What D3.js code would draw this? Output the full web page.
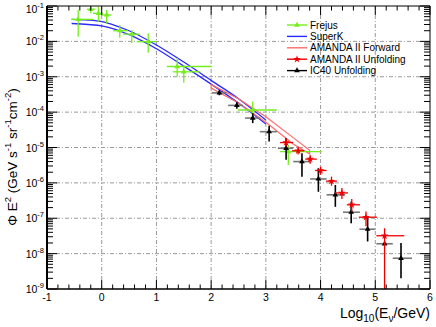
<!DOCTYPE html>
<html><head><meta charset="utf-8">
<script src="https://cdn.jsdelivr.net/npm/d3@7"></script>
<style>body{margin:0;background:#fff}svg{display:block;font-family:"Liberation Sans",Arial,sans-serif}</style>
</head><body><svg id="c" width="436" height="327"></svg>
<script>
// ---- data ----
const xTickValues = [-1,0,1,2,3,4,5,6];
const yTickExps = [-9,-8,-7,-6,-5,-4,-3,-2,-1];

// Frejus
const frejusX   = [-0.43,-0.20,-0.06,0.09,0.33,0.55,0.85,1.38,1.50,2.76,3.41];
const frejusXlo = [-0.55,-0.27,-0.16,0.00,0.21,0.39,0.64,1.19,1.30,2.49,3.26];
const frejusXhi = [-0.15,-0.12,0.02,0.18,0.48,0.70,1.00,2.01,1.80,3.20,4.02];
const frejusY   = [4.2e-2,8.1e-2,6.2e-2,5.6e-2,2.0e-2,1.6e-2,9.8e-3,1.95e-3,1.38e-3,1.15e-4,7.6e-6];
const frejusYlo = [1.35e-2,6.2e-2,3.6e-2,3.2e-2,1.26e-2,8.9e-3,4.8e-3,1.0e-3,6.8e-4,6.0e-5,3.2e-6];
const frejusYhi = [7.8e-2,1.1e-1,9.5e-2,7.8e-2,2.9e-2,2.1e-2,1.7e-2,3.4e-3,2.1e-3,2.0e-4,1.17e-5];

// SuperK band
const superkX     = [-0.55,-0.25,0.0,0.25,0.5,1.0,1.5,2.0,2.5,3.0];
const superkUpper = [4.2e-2,4.0e-2,3.6e-2,2.8e-2,2.0e-2,7.9e-3,2.6e-3,7.9e-4,2.4e-4,6.0e-5];
const superkLower = [3.2e-2,3.0e-2,2.75e-2,2.2e-2,1.55e-2,6.2e-3,2.0e-3,6.2e-4,1.8e-4,4.6e-5];

// AMANDA II Forward band
const amfX     = [2.0,2.5,3.0,3.5,3.8];
const amfUpper = [6.0e-4,2.4e-4,7.4e-5,1.9e-5,8.3e-6];
const amfLower = [4.8e-4,1.8e-4,5.2e-5,1.26e-5,6.6e-6];

// AMANDA II Unfolding
const amuX   = [3.37,3.59,3.81,4.00,4.20,4.39,4.57,4.83,5.17];
const amuXlo = [3.26,3.48,3.72,3.90,4.10,4.26,4.48,4.70,5.02];
const amuXhi = [3.50,3.70,3.93,4.11,4.30,4.50,4.72,5.03,5.53];
const amuY   = [1.38e-5,8.1e-6,4.7e-6,2.24e-6,1.12e-6,5.2e-7,2.4e-7,1.07e-7,3.2e-8];
const amuYlo = [1.05e-5,6.3e-6,3.5e-6,1.7e-6,8.3e-7,3.5e-7,1.55e-7,5.9e-8,1e-10];
const amuYhi = [1.86e-5,1.05e-5,6.0e-6,2.9e-6,1.5e-6,7.2e-7,3.5e-7,1.55e-7,5.2e-8];

// IC40 Unfolding
const icX   = [2.15,2.47,2.76,3.06,3.37,3.66,3.96,4.27,4.56,4.86,5.17,5.47];
const icXlo = [2.01,2.31,2.62,2.89,3.22,3.50,3.81,4.11,4.41,4.71,5.02,5.32];
const icXhi = [2.28,2.58,2.89,3.20,3.50,3.81,4.11,4.45,4.72,5.00,5.32,5.67];
const icY   = [3.5e-4,1.55e-4,6.8e-5,2.8e-5,9.5e-6,4.0e-6,1.29e-6,4.6e-7,1.48e-7,4.9e-8,1.9e-8,7.4e-9];
const icYlo = [3.0e-4,1.25e-4,4.9e-5,1.48e-5,4.5e-6,1.5e-6,5.6e-7,2.1e-7,7.2e-8,2.2e-8,1.9e-8,2.0e-9];
const icYhi = [4.0e-4,1.9e-4,9.3e-5,4.1e-5,1.86e-5,6.9e-6,2.6e-6,8.7e-7,2.95e-7,1.02e-7,1.9e-8,2.0e-8];

const legendLabels = ["Frejus","SuperK","AMANDA II Forward","AMANDA II Unfolding","IC40 Unfolding"];

// ---- drawing ----
const L=47,R=430,T=6,B=289;
const svg=d3.select("#c");
const x=d3.scaleLinear().domain([-1,6]).range([L,R]);
const y=d3.scaleLog().domain([1e-9,1e-1]).range([B,T]);
const C={green:"#74ee1c",blue:"#2a2aff",lred:"#ff6a6a",red:"#ee0000",black:"#000",gray:"#777777"};

svg.append("defs").append("clipPath").attr("id","clip").append("rect")
  .attr("x",L).attr("y",T).attr("width",R-L).attr("height",B-T);

// grid
const grid=svg.append("g").attr("stroke","#9a9a9a").attr("stroke-width",1).attr("stroke-dasharray","4,2,1,2");
xTickValues.slice(1,-1).forEach(v=>grid.append("line").attr("x1",x(v)).attr("x2",x(v)).attr("y1",T).attr("y2",B));
yTickExps.slice(1,-1).forEach(e=>grid.append("line").attr("x1",L).attr("x2",R).attr("y1",y(Math.pow(10,e))).attr("y2",y(Math.pow(10,e))));

const plot=svg.append("g").attr("clip-path","url(#clip)");

// SuperK lines
const lineGen=(xs,ys)=>d3.line().x((d,i)=>x(xs[i])).y((d,i)=>y(ys[i])).curve(d3.curveMonotoneX)(xs);
plot.append("path").attr("d",lineGen(superkX,superkUpper)).attr("fill","none").attr("stroke",C.blue).attr("stroke-width",1.3);
plot.append("path").attr("d",lineGen(superkX,superkLower)).attr("fill","none").attr("stroke",C.blue).attr("stroke-width",1.3);

// AMANDA forward polygon outline
{
  const pts=amfX.map((v,i)=>[x(v),y(amfUpper[i])]).concat(amfX.map((v,i)=>[x(v),y(amfLower[i])]).reverse());
  plot.append("path").attr("d",d3.line()(pts)+"Z").attr("fill","none").attr("stroke",C.lred).attr("stroke-width",1.2);
}

function errPoints(g,xs,xl,xh,ys,yl,yh,hcol,vcol,w){
  xs.forEach((v,i)=>{
    g.append("line").attr("x1",x(xl[i])).attr("x2",x(xh[i])).attr("y1",y(ys[i])).attr("y2",y(ys[i])).attr("stroke",hcol).attr("stroke-width",w);
    g.append("line").attr("x1",x(v)).attr("x2",x(v)).attr("y1",y(yl[i])).attr("y2",y(yh[i])).attr("stroke",vcol).attr("stroke-width",w);
  });
}
const tri=d3.symbol().type(d3.symbolTriangle).size(14);
const star=d3.symbol().type(d3.symbolStar).size(18);

// Frejus
errPoints(plot,frejusX,frejusXlo,frejusXhi,frejusY,frejusYlo,frejusYhi,C.green,C.green,1.3);
frejusX.forEach((v,i)=>plot.append("path").attr("d",tri).attr("transform",`translate(${x(v)},${y(frejusY[i])})`).attr("fill",C.green));

// IC40
errPoints(plot,icX,icXlo,icXhi,icY,icYlo,icYhi,C.gray,C.black,1.6);
icX.forEach((v,i)=>plot.append("path").attr("d",tri).attr("transform",`translate(${x(v)},${y(icY[i])})`).attr("fill",C.black));

// AMANDA unfolding
errPoints(plot,amuX,amuXlo,amuXhi,amuY,amuYlo,amuYhi,C.red,C.red,1.3);
amuX.forEach((v,i)=>plot.append("path").attr("d",star).attr("transform",`translate(${x(v)},${y(amuY[i])})`).attr("fill",C.red));

// frame
svg.append("line").attr("x1",L).attr("x2",L).attr("y1",T).attr("y2",B).attr("stroke","#000").attr("stroke-width",2);
svg.append("line").attr("x1",L).attr("x2",R).attr("y1",B).attr("y2",B).attr("stroke","#000").attr("stroke-width",1.5);
svg.append("line").attr("x1",L).attr("x2",R).attr("y1",T).attr("y2",T).attr("stroke","#000").attr("stroke-width",1);
svg.append("line").attr("x1",R).attr("x2",R).attr("y1",T).attr("y2",B).attr("stroke","#000").attr("stroke-width",1);

// ticks
const tk=svg.append("g").attr("stroke","#000").attr("stroke-width",1);
for(let v=-1;v<=6.001;v+=0.2){
  const vv=Math.round(v*10)/10, major=Math.abs(vv-Math.round(vv))<1e-6, len=major?9:4.5;
  tk.append("line").attr("x1",x(vv)).attr("x2",x(vv)).attr("y1",B).attr("y2",B-len);
  tk.append("line").attr("x1",x(vv)).attr("x2",x(vv)).attr("y1",T).attr("y2",T+len);
}
yTickExps.forEach(e=>{
  const base=Math.pow(10,e);
  tk.append("line").attr("x1",L).attr("x2",L+10).attr("y1",y(base)).attr("y2",y(base));
  tk.append("line").attr("x1",R).attr("x2",R-10).attr("y1",y(base)).attr("y2",y(base));
  if(e<-1) for(let k=2;k<=9;k++){
    const yy=y(k*base);
    tk.append("line").attr("x1",L).attr("x2",L+6).attr("y1",yy).attr("y2",yy);
    tk.append("line").attr("x1",R).attr("x2",R-6).attr("y1",yy).attr("y2",yy);
  }
});

// tick labels
xTickValues.forEach(v=>svg.append("text").attr("x",x(v)).attr("y",301).attr("text-anchor","middle").attr("font-size",10.5).text(v));
yTickExps.forEach(e=>{
  const t=svg.append("text").attr("x",44).attr("y",Math.max(y(Math.pow(10,e))+4,12.5)).attr("text-anchor","end").attr("font-size",10.5);
  t.append("tspan").text("10");
  t.append("tspan").attr("font-size",7.5).attr("dy",-5).text(String(e));
});

// axis titles
{
  const t=svg.append("text").attr("x",R).attr("y",318).attr("text-anchor","end").attr("font-size",14);
  t.append("tspan").text("Log");
  t.append("tspan").attr("font-size",10).attr("dy",4).text("10");
  t.append("tspan").attr("dy",-4).text("(E");
  t.append("tspan").attr("font-size",10).attr("dy",4).text("ν");
  t.append("tspan").attr("dy",-4).text("/GeV)");
}
{
  const t=svg.append("text").attr("transform","translate(17,157) rotate(-90)").attr("text-anchor","middle").attr("font-size",13.5);
  t.append("tspan").text("Φ E");
  t.append("tspan").attr("font-size",9.5).attr("dy",-6).text("2");
  t.append("tspan").attr("dy",6).text(" (GeV s");
  t.append("tspan").attr("font-size",9.5).attr("dy",-6).text("-1");
  t.append("tspan").attr("dy",6).text(" sr");
  t.append("tspan").attr("font-size",9.5).attr("dy",-6).text("-1");
  t.append("tspan").attr("dy",6).text("cm");
  t.append("tspan").attr("font-size",9.5).attr("dy",-6).text("-2");
  t.append("tspan").attr("dy",6).text(")");
}

// legend
const lg=svg.append("g");
const lcols=[C.green,C.blue,C.lred,C.red,C.black];
legendLabels.forEach((lab,i)=>{
  const yy=25+i*11.4;
  lg.append("line").attr("x1",287).attr("x2",307).attr("y1",yy).attr("y2",yy).attr("stroke",lcols[i]).attr("stroke-width",1.4);
  if(i===0||i===4) lg.append("path").attr("d",tri).attr("transform",`translate(297,${yy})`).attr("fill",lcols[i]);
  if(i===3) lg.append("path").attr("d",star).attr("transform",`translate(297,${yy})`).attr("fill",lcols[i]);
  lg.append("text").attr("x",310).attr("y",yy+3.6).attr("font-size",10).text(lab);
});
</script></body></html>
